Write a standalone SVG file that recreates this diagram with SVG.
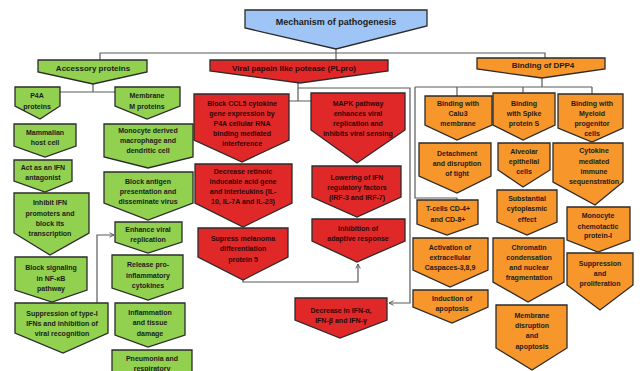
<svg xmlns="http://www.w3.org/2000/svg" width="642" height="371" viewBox="0 0 642 371">
<style>
.n{stroke:#2b2b2b;stroke-width:1.3;stroke-linejoin:miter}
.g{fill:#92d050}.r{fill:#e12828}.o{fill:#f7962a}.b{fill:#9ec5f5}
text{font-family:"Liberation Sans",Arial,sans-serif;font-weight:bold;font-size:7px;text-anchor:middle;fill:#1c1c1c}
.h{font-size:8px}.t{font-size:9px}
.rt{fill:#2e0707}
.c{fill:none;stroke:#5a5a5a;stroke-width:1.2}
</style>
<defs>
<marker id="ar" viewBox="0 0 8 8" refX="7" refY="4" markerWidth="6" markerHeight="6" orient="auto" markerUnits="userSpaceOnUse">
<path d="M1,1 L7,4 L1,7" fill="none" stroke="#5a5a5a" stroke-width="1.3"/>
</marker>
</defs>
<g id="connectors">
<path class="c" d="M100,60 V53 H545 V58"/>
<path class="c" d="M336,49 V60"/>
<path class="c" d="M93,84 V92 M60,92 H115"/>
<path class="c" d="M97,303 V235 H114" marker-end="url(#ar)"/>
<path class="c" d="M298,83 V101 M289,101 H311"/>
<path class="c" d="M298,88 H410 V303 H389" marker-end="url(#ar)"/>
<path class="c" d="M243,280 V282 H358 V264" marker-end="url(#ar)"/>
<path class="c" d="M542,78 V87 M415,87 H592 M457,87 V96 M523,87 V93 M592,87 V94"/>
<path class="c" d="M415,87 V198 H457 V200"/>
</g>
<g id="title"><polygon class="n b" points="245,10 427,10 427,26 336,49 245,28"/><text class="t" x="336" y="25">Mechanism of pathogenesis</text></g>
<g id="accessory"><polygon class="n g" points="38,60 147,60 147,72 93,84 38,72"/><text class="h" x="93" y="71">Accessory proteins</text></g>
<g id="plpro"><polygon class="n r" points="210,60 388,60 388,71 300,83 210,71"/><text class="h rt" x="294" y="70.5">Viral papain like potease (PLpro)</text></g>
<g id="dpp4"><polygon class="n o" points="477,58 605,58 605,69 542,78 477,69"/><text class="h" x="543" y="68">Binding of DPP4</text></g>

<g id="p4a"><polygon class="n g" points="15,87 60,87 60,106 40,119 15,106"/><text x="37" y="97.5">P4A</text><text x="37" y="108.5">proteins</text></g>
<g id="memM"><polygon class="n g" points="115,87 180,87 180,106 147,119 115,106"/><text x="147" y="97.5">Membrane</text><text x="147" y="108.5">M proteins</text></g>
<g id="mammalian"><polygon class="n g" points="14,124 76,124 76,146 45,157 14,146"/><text x="45" y="134.5">Mammalian</text><text x="45" y="144.5">host cell</text></g>
<g id="antagonist"><polygon class="n g" points="14,160 72,160 72,181 45,192 14,181"/><text x="43" y="169.5">Act as an IFN</text><text x="43" y="179.5">antagonist</text></g>
<g id="inhibitIFN"><polygon class="n g" points="14,193 89,193 89,233 50,255 14,233"/><text x="50" y="204.5">Inhibit IFN</text><text x="50" y="215.5">promoters and</text><text x="50" y="225.5">block its</text><text x="50" y="235.5">transcription</text></g>
<g id="nfkb"><polygon class="n g" points="15,257 87,257 87,290 52,302 15,290"/><text x="51" y="269.5">Block signaling</text><text x="51" y="280.5">in NF-κB</text><text x="51" y="290.5">pathway</text></g>
<g id="suppression1"><polygon class="n g" points="15,303 108,303 108,333 63,353 15,333"/><text x="62" y="315.5">Suppression of type-I</text><text x="62" y="325.5">IFNs and inhibition of</text><text x="62" y="335.5">viral recognition</text></g>
<g id="monocyteDerived"><polygon class="n g" points="104,124 193,124 193,157 148,168 104,157"/><text x="148" y="132.5">Monocyte derived</text><text x="148" y="142.5">macrophage and</text><text x="148" y="152.5">dendritic cell</text></g>
<g id="blockAntigen"><polygon class="n g" points="104,172 193,172 193,203 148,220 104,203"/><text x="148" y="183.5">Block antigen</text><text x="148" y="193.5">presentation and</text><text x="148" y="203.5">disseminate virus</text></g>
<g id="enhance"><polygon class="n g" points="115,222 182,222 182,242 148,253 115,242"/><text x="148" y="231.5">Enhance viral</text><text x="148" y="241.5">replication</text></g>
<g id="release"><polygon class="n g" points="112,255 183,255 183,288 148,300 112,288"/><text x="148" y="266.5">Release pro-</text><text x="148" y="277.5">inflammatory</text><text x="148" y="287.5">cytokines</text></g>
<g id="inflammation"><polygon class="n g" points="115,303 185,303 185,335 148,347 115,335"/><text x="150" y="314.5">Inflammation</text><text x="150" y="324.5">and tissue</text><text x="150" y="335.5">damage</text></g>
<g id="pneumonia"><polygon class="n g" points="112,350 192,350 192,385 152,395 112,385"/><text x="152" y="360.5">Pneumonia and</text><text x="152" y="370.5">respiratory</text></g>

<g id="ccl5"><polygon class="n r" points="194,94 289,94 289,140 242,162 194,140"/><text class="rt" x="242" y="105.5">Block CCL5 cytokine</text><text class="rt" x="242" y="115.5">gene expression by</text><text class="rt" x="242" y="125.5">P4A cellular RNA</text><text class="rt" x="242" y="135.5">binding mediated</text><text class="rt" x="242" y="145.5">interference</text></g>
<g id="mapk"><polygon class="n r" points="311,93 405,93 405,130 357,163 311,130"/><text class="rt" x="358" y="105.5">MAPK pathway</text><text class="rt" x="358" y="115.5">enhances viral</text><text class="rt" x="358" y="125.5">replication and</text><text class="rt" x="358" y="135.5">inhibits viral sensing</text></g>
<g id="retinoic"><polygon class="n r" points="195,164 292,164 292,203 243,227 195,203"/><text class="rt" x="243" y="173.5">Decrease retinoic</text><text class="rt" x="243" y="183.5">inducable acid gene</text><text class="rt" x="243" y="193.5">and interleukins (IL-</text><text class="rt" x="243" y="203.5">10, IL-7A and IL-23)</text></g>
<g id="lowering"><polygon class="n r" points="312,166 401,166 401,197 357,217 312,197"/><text class="rt" x="357" y="179.5">Lowering of IFN</text><text class="rt" x="357" y="189.5">regulatory factors</text><text class="rt" x="357" y="199.5">(IRF-3 and IRF-7)</text></g>
<g id="adaptive"><polygon class="n r" points="312,219 405,219 405,241 357,262 312,241"/><text class="rt" x="358" y="230.5">Inhibition of</text><text class="rt" x="358" y="240.5">adaptive response</text></g>
<g id="melanoma"><polygon class="n r" points="198,228 288,228 288,257 243,280 198,257"/><text class="rt" x="243" y="240.5">Supress melanoma</text><text class="rt" x="243" y="250.5">differentiation</text><text class="rt" x="243" y="261.5">protein 5</text></g>
<g id="decreaseIFN"><polygon class="n r" points="295,298 387,298 387,320 340,338 295,320"/><text class="rt" x="341" y="312.5">Decrease in IFN-α,</text><text class="rt" x="341" y="322.5">IFN-β and IFN-γ</text></g>

<g id="calu3"><polygon class="n o" points="425,96 492,96 492,125 457,140 425,125"/><text x="458" y="105.5">Binding with</text><text x="458" y="115.5">Calu3</text><text x="458" y="125.5">membrane</text></g>
<g id="spike"><polygon class="n o" points="493,93 555,93 555,125 523,140 493,125"/><text x="524" y="105.5">Binding</text><text x="524" y="115.5">with Spike</text><text x="524" y="125.5">protein S</text></g>
<g id="myeloid"><polygon class="n o" points="558,94 623,94 623,128 592,142 558,128"/><text x="592" y="105.5">Binding with</text><text x="592" y="115.5">Myeloid</text><text x="592" y="125.5">progenitor</text><text x="592" y="135.5">cells</text></g>
<g id="detachment"><polygon class="n o" points="419,143 491,143 491,176 457,193 419,176"/><text x="457" y="155.5">Detachment</text><text x="457" y="165.5">and disruption</text><text x="457" y="175.5">of tight</text></g>
<g id="alveolar"><polygon class="n o" points="498,143 550,143 550,170 523,187 498,170"/><text x="524" y="153.5">Alveolar</text><text x="524" y="163.5">epithelial</text><text x="524" y="173.5">cells</text></g>
<g id="cytokine"><polygon class="n o" points="553,143 623,143 623,182 595,205 553,182"/><text x="594" y="152.5">Cytokine</text><text x="594" y="163.5">mediated</text><text x="594" y="173.5">immune</text><text x="594" y="183.5">sequenstration</text></g>
<g id="tcells"><polygon class="n o" points="417,200 478,200 478,224 447,235 417,224"/><text x="448" y="210.5">T-cells CD-4+</text><text x="448" y="222">and CD-8+</text></g>
<g id="substantial"><polygon class="n o" points="497,190 557,190 557,222 527,235 497,222"/><text x="527" y="200.5">Substantial</text><text x="527" y="210.5">cytoplasmic</text><text x="527" y="221.5">effect</text></g>
<g id="chemotactic"><polygon class="n o" points="567,207 630,207 630,240 598,252 567,240"/><text x="598" y="217.5">Monocyte</text><text x="598" y="228.5">chemotactic</text><text x="598" y="237.5">protein-I</text></g>
<g id="caspases"><polygon class="n o" points="413,238 488,238 488,270 450,287 413,270"/><text x="450" y="249.5">Activation of</text><text x="450" y="259.5">extracellular</text><text x="450" y="269.5">Caspaces-3,8,9</text></g>
<g id="induction"><polygon class="n o" points="413,290 488,290 488,307 452,323 413,307"/><text x="452" y="300.5">Induction of</text><text x="452" y="310.5">apoptosis</text></g>
<g id="chromatin"><polygon class="n o" points="493,238 564,238 564,282 528,302 493,282"/><text x="529" y="249.5">Chromatin</text><text x="529" y="259.5">condensation</text><text x="529" y="269.5">and nuclear</text><text x="529" y="279.5">fragmentation</text></g>
<g id="membraneDisruption"><polygon class="n o" points="496,305 567,305 567,348 532,370 496,348"/><text x="532" y="317.5">Membrane</text><text x="532" y="327.5">disruption</text><text x="532" y="337.5">and</text><text x="532" y="348.5">apoptosis</text></g>
<g id="suppression2"><polygon class="n o" points="567,253 633,253 633,285 600,310 567,285"/><text x="600" y="265.5">Suppression</text><text x="600" y="275.5">and</text><text x="600" y="285.5">proliferation</text></g>
</svg>
